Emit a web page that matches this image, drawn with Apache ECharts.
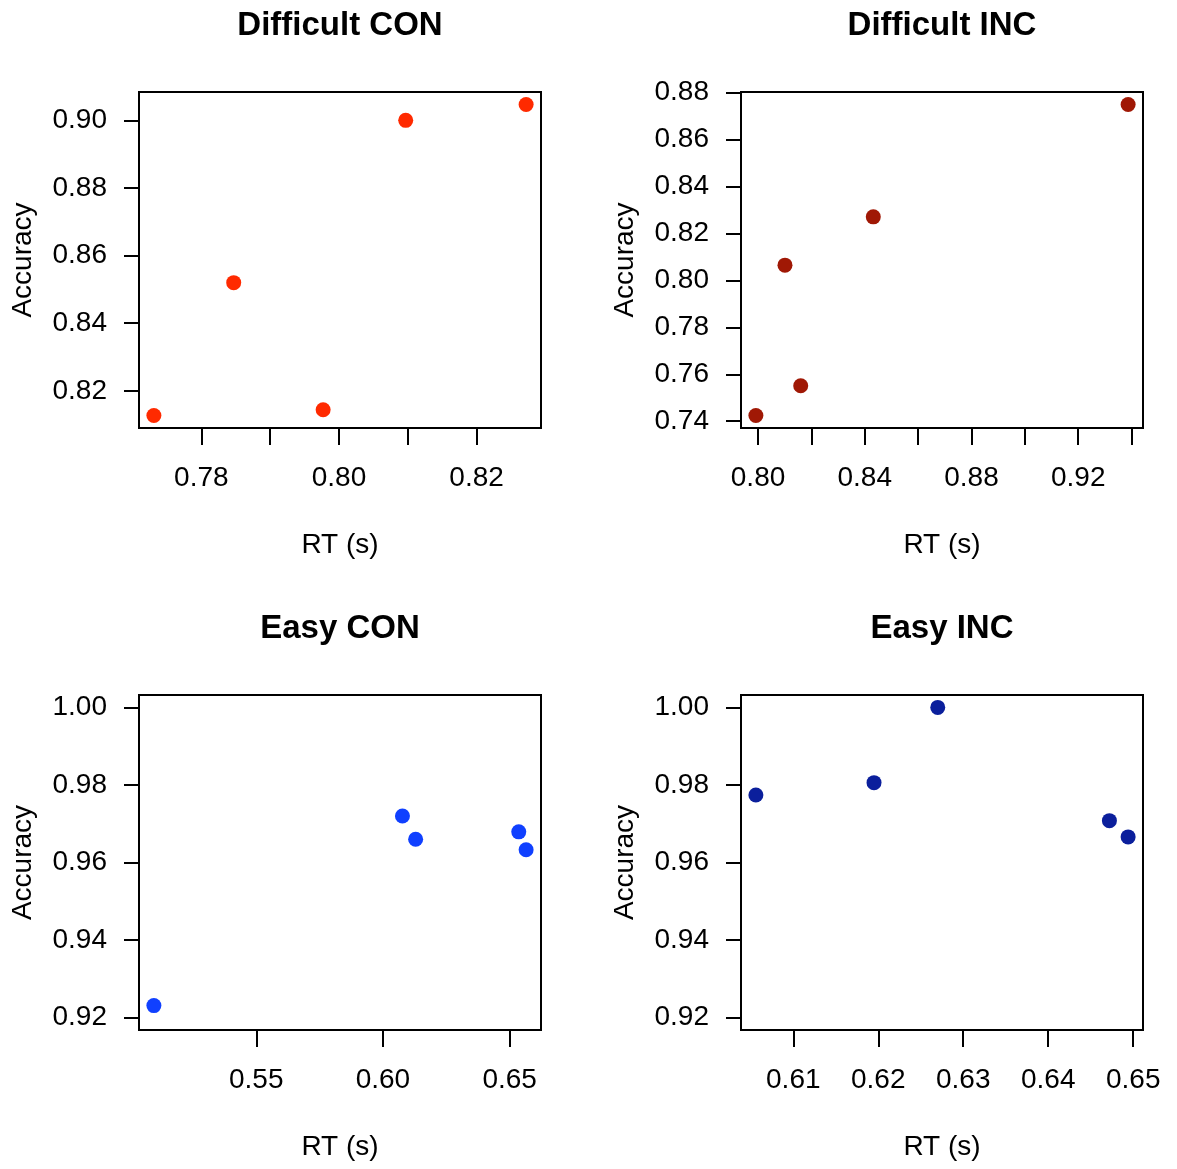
<!DOCTYPE html>
<html>
<head>
<meta charset="utf-8">
<script src="https://cdn.jsdelivr.net/npm/echarts@6/dist/echarts.min.js"></script>
<style>
html,body{margin:0;padding:0;background:#fff;}
#chart{width:1177px;height:1169px;}
</style>
</head>
<body>
<div id="chart"></div>
<script>
// ---- Data ----
const panelTitles = ["Difficult CON", "Difficult INC", "Easy CON", "Easy INC"];

const dconRT  = [0.7731, 0.7847, 0.7977, 0.8097, 0.8272];
const dconAcc = [0.8127, 0.8520, 0.8144, 0.9000, 0.9047];

const dincRT  = [0.7992, 0.8101, 0.8160, 0.8432, 0.9387];
const dincAcc = [0.7424, 0.8065, 0.7551, 0.8271, 0.8750];

const econRT  = [0.5096, 0.6077, 0.6129, 0.6536, 0.6565];
const econAcc = [0.9231, 0.9720, 0.9660, 0.9679, 0.9633];

const eincRT  = [0.6056, 0.6195, 0.6270, 0.6472, 0.6494];
const eincAcc = [0.9774, 0.9806, 1.0000, 0.9708, 0.9666];

// tick positions and labels
const dconXTicks  = [0.78, 0.79, 0.80, 0.81, 0.82];
const dconXLabels = [0.78, 0.80, 0.82];
const dconYTicks  = [0.82, 0.84, 0.86, 0.88, 0.90];

const dincXTicks  = [0.80, 0.82, 0.84, 0.86, 0.88, 0.90, 0.92, 0.94];
const dincXLabels = [0.80, 0.84, 0.88, 0.92];
const dincYTicks  = [0.74, 0.76, 0.78, 0.80, 0.82, 0.84, 0.86, 0.88];

const econXTicks  = [0.55, 0.60, 0.65];
const econXLabels = [0.55, 0.60, 0.65];
const econYTicks  = [0.92, 0.94, 0.96, 0.98, 1.00];

const eincXTicks  = [0.61, 0.62, 0.63, 0.64, 0.65];
const eincXLabels = [0.61, 0.62, 0.63, 0.64, 0.65];
const eincYTicks  = [0.92, 0.94, 0.96, 0.98, 1.00];

const easyYLim = [0.92, 1.00];

const colors = ["#ff2a00", "#a01805", "#1040ff", "#0b1f9c"];

// ---- Helpers ----
function rRange(lo, hi) { // R's default 4% axis expansion
  const ext = (hi - lo) * 0.04;
  return [lo - ext, hi + ext];
}
function dataRange(arr) { return rRange(Math.min(...arr), Math.max(...arr)); }

const FONT = "'Liberation Sans', Arial, Helvetica, sans-serif";

const panels = [
  {x: dconRT, y: dconAcc, xr: dataRange(dconRT), yr: dataRange(dconAcc), xt: dconXTicks, xl: dconXLabels, yt: dconYTicks},
  {x: dincRT, y: dincAcc, xr: dataRange(dincRT), yr: dataRange(dincAcc), xt: dincXTicks, xl: dincXLabels, yt: dincYTicks},
  {x: econRT, y: econAcc, xr: dataRange(econRT), yr: rRange(easyYLim[0], easyYLim[1]), xt: econXTicks, xl: econXLabels, yt: econYTicks},
  {x: eincRT, y: eincAcc, xr: dataRange(eincRT), yr: rRange(easyYLim[0], easyYLim[1]), xt: eincXTicks, xl: eincXLabels, yt: eincYTicks}
];

const gridPos = [
  {left: 139, top: 92, width: 402, height: 336},
  {left: 741, top: 92, width: 402, height: 336},
  {left: 139, top: 695, width: 402, height: 335},
  {left: 741, top: 695, width: 402, height: 335}
];
const titleCenters = [[340, 26], [942, 26], [340, 629], [942, 629]];

const grids = [], xAxes = [], yAxes = [], series = [], graphics = [];
const fmt = v => Number(v).toFixed(2);

panels.forEach((p, i) => {
  grids.push(Object.assign({show: true, borderColor: "#000", borderWidth: 2, backgroundColor: "transparent"}, gridPos[i]));
  xAxes.push({
    type: "value", gridIndex: i, min: p.xr[0], max: p.xr[1],
    name: "RT (s)", nameLocation: "middle", nameGap: 103,
    nameTextStyle: {fontFamily: FONT, fontSize: 28, color: "#000"},
    axisLine: {show: false},
    axisTick: {show: true, inside: false, length: 17, customValues: p.xt, lineStyle: {color: "#000", width: 2}},
    axisLabel: {show: true, customValues: p.xl, formatter: fmt, margin: 36, fontFamily: FONT, fontSize: 28, color: "#000", showMinLabel: true, showMaxLabel: true},
    splitLine: {show: false}
  });
  yAxes.push({
    type: "value", gridIndex: i, min: p.yr[0], max: p.yr[1],
    name: "Accuracy", nameLocation: "middle", nameGap: 102, nameRotate: 90,
    nameTextStyle: {fontFamily: FONT, fontSize: 28, color: "#000"},
    axisLine: {show: false},
    axisTick: {show: true, inside: false, length: 15, customValues: p.yt, lineStyle: {color: "#000", width: 2}},
    axisLabel: {show: true, customValues: p.yt, formatter: fmt, margin: 32, fontFamily: FONT, fontSize: 28, color: "#000", showMinLabel: true, showMaxLabel: true},
    splitLine: {show: false}
  });
  series.push({
    type: "scatter", xAxisIndex: i, yAxisIndex: i,
    data: p.x.map((v, k) => [v, p.y[k]]),
    symbol: "circle", symbolSize: 15,
    itemStyle: {color: colors[i], opacity: 1},
    silent: true
  });
  graphics.push({
    type: "text", x: titleCenters[i][0], y: titleCenters[i][1],
    style: {text: panelTitles[i], fill: "#000", font: "bold 33px " + FONT, textAlign: "center", textVerticalAlign: "middle"}
  });
});

const chart = echarts.init(document.getElementById("chart"), null, {renderer: "canvas"});
chart.setOption({
  animation: false,
  backgroundColor: "#fff",
  grid: grids,
  xAxis: xAxes,
  yAxis: yAxes,
  series: series,
  graphic: graphics
});
</script>
</body>
</html>
